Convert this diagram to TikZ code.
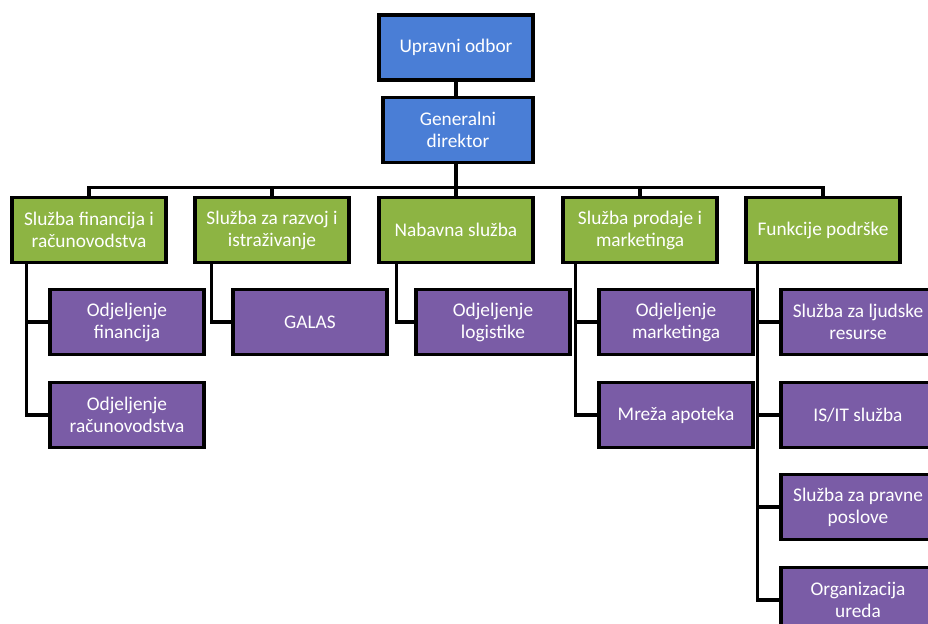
\documentclass[tikz,border=0pt]{standalone}
\usepackage{fontspec}
\setmainfont{Carlito}
\definecolor{boardblue}{RGB}{74,126,214}
\definecolor{unitgreen}{RGB}{141,180,67}
\definecolor{deptpurple}{RGB}{122,92,166}
\tikzset{
  box/.style={draw=black, line width=2pt, text=white, align=center,
    minimum width=3.08cm, minimum height=1.3cm, inner sep=1pt,
    font=\fontsize{11}{12.5}\selectfont},
  topbox/.style={box, fill=boardblue},
  unitbox/.style={box, fill=unitgreen},
  deptbox/.style={box, fill=deptpurple},
  link/.style={line width=1.8pt}
}
\begin{document}
\begin{tikzpicture}[x=0.02cm, y=-0.02cm]
      \useasboundingbox (0, 0) rectangle (928, 624);

      \node[topbox] (uo) at (456, 47.5) {Upravni odbor};
      \node[topbox, minimum width=3cm] (gd) at (458, 130) {Generalni\\direktor};

      \node[unitbox] (s1) at (89, 230) {Služba financija i\\računovodstva};
      \node[unitbox] (s2) at (272, 230) {Služba za razvoj i\\istraživanje};
      \node[unitbox] (s3) at (456, 230) {Nabavna služba};
      \node[unitbox] (s4) at (640, 230) {Služba prodaje i\\marketinga};
      \node[unitbox] (s5) at (823, 230) {Funkcije podrške};

      \node[deptbox] (fin) at (127, 322) {Odjeljenje\\financija};
      \node[deptbox] (rac) at (127, 415) {Odjeljenje\\računovodstva};
      \node[deptbox] (galas) at (310, 322) {GALAS};
      \node[deptbox] (log) at (493, 322) {Odjeljenje\\logistike};
      \node[deptbox] (mark) at (676, 322) {Odjeljenje\\marketinga};
      \node[deptbox] (apo) at (676, 415) {Mreža apoteka};
      \node[deptbox] (ljud) at (858, 322) {Služba za ljudske\\resurse};
      \node[deptbox] (isit) at (858, 415) {IS/IT služba};
      \node[deptbox] (prav) at (858, 507) {Služba za pravne\\poslove};
      \node[deptbox] (ured) at (858, 600) {Organizacija\\ureda};

      \draw[link] (uo.south) -- (uo.south |- gd.north);
      \foreach \u in {s1, s2, s3, s4, s5}
        \draw[link] (gd.south -| uo.south) -- ++(0, 23) -| (\u.north);

      \draw[link] (s1.south west) ++(16, 0) |- (fin.west);
      \draw[link] (s1.south west) ++(16, 0) |- (rac.west);
      \draw[link] (s2.south west) ++(18, 0) |- (galas.west);
      \draw[link] (s3.south west) ++(19, 0) |- (log.west);
      \draw[link] (s4.south west) ++(14, 0) |- (mark.west);
      \draw[link] (s4.south west) ++(14, 0) |- (apo.west);
      \foreach \d in {ljud, isit, prav, ured}
        \draw[link] (s5.south west) ++(13, 0) |- (\d.west);
\end{tikzpicture}
\end{document}
